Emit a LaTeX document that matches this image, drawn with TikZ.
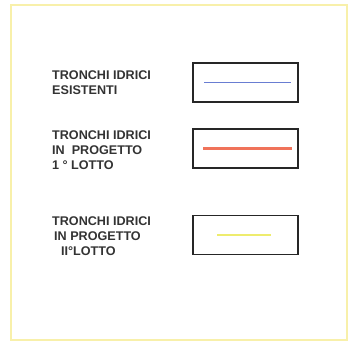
\documentclass[tikz,border=0pt]{standalone}
\usepackage{fontspec}
\setmainfont{Liberation Sans}
\usetikzlibrary{positioning}

\definecolor{framecol}{RGB}{248,240,170}
\definecolor{esist}{RGB}{105,125,210}
\definecolor{lotto1}{RGB}{240,115,90}
\definecolor{lotto2}{RGB}{238,236,110}

\tikzset{
    legbox/.style={draw=black!85, line width=1.1pt, minimum width=105pt, minimum height=39pt, inner sep=0pt},
    legtext/.style={anchor=north west, align=left, inner sep=0pt, font=\bfseries\fontsize{12.6}{15}\selectfont, text=black!80},
    legline/.style={line width=1.6pt}
}

\begin{document}
\begin{tikzpicture}[x=1pt, y=-1pt]
        \useasboundingbox (0,0) rectangle (350,342);
        % frame
        \draw[framecol, line width=1.4pt] (11,5) rectangle (347,340);
        % boxes
        \node[legbox] (esistenti) at (245.5,82.5) {};
        \node[legbox] (primo) at (245.5,148.5) {};
        \node[legbox] (secondo) at (245.5,235) {};
        % lines
        \draw[esist, legline] ([xshift=12pt]esistenti.west) -- ([xshift=-8pt]esistenti.east);
        \draw[lotto1, legline, line width=2.2pt] ([xshift=11pt]primo.west) -- ([xshift=-7pt]primo.east);
        \draw[lotto2, legline, line width=2pt] ([xshift=25pt]secondo.west) -- ([xshift=-28pt]secondo.east);
        % labels
        \node[legtext] (t1) at (52,71) {TRONCHI IDRICI\\ESISTENTI};
        \node[legtext] (t2) at (52,131) {TRONCHI IDRICI\\IN\ \ PROGETTO\\1 ° LOTTO};
        \node[legtext] (t3) at (52,216) {TRONCHI IDRICI\\\hspace*{2pt}IN PROGETTO\\\hspace*{9pt}II°LOTTO};
\end{tikzpicture}
\end{document}
